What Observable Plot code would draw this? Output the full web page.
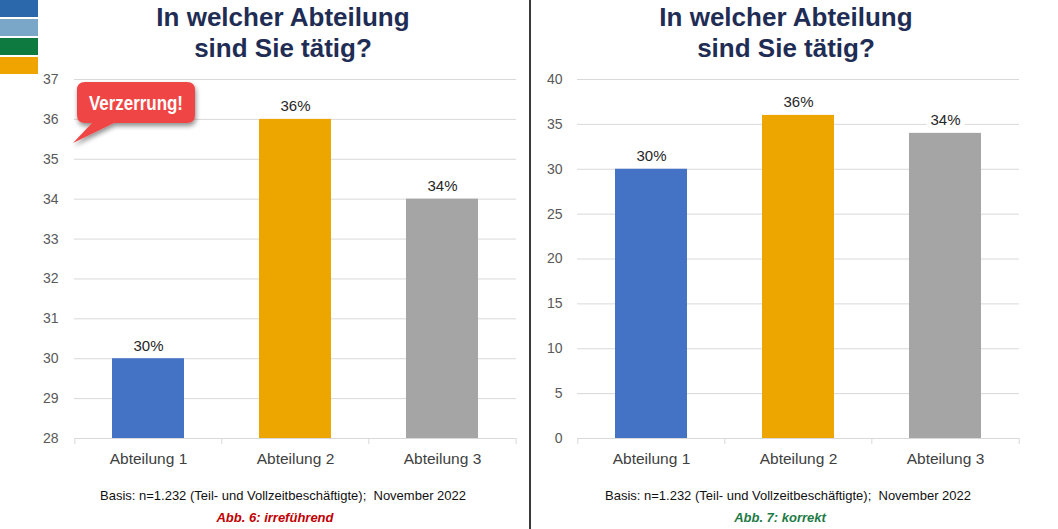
<!DOCTYPE html>
<html>
<head>
<meta charset="utf-8">
<script src="https://cdn.jsdelivr.net/npm/d3@7"></script>
<script src="https://cdn.jsdelivr.net/npm/@observablehq/plot@0.6"></script>
<style>
  html, body { margin: 0; padding: 0; background: #fff; }
  body { width: 1058px; height: 529px; position: relative; overflow: hidden; font-family: "Liberation Sans", Arial, sans-serif; }
  .abs { position: absolute; }
  .title { color: #1f2d55; font-weight: bold; font-size: 26px; line-height: 31px; text-align: center; width: 400px; }
  .basis { font-size: 13px; color: #111; text-align: center; width: 500px; white-space: pre; }
  .abb { font-size: 13px; font-weight: bold; font-style: italic; text-align: center; width: 300px; }
</style>
</head>
<body>
<div id="deco"></div>
<div id="left" class="abs" style="left:0;top:0"></div>
<div id="right" class="abs" style="left:529px;top:0"></div>
<div class="abs" style="left:529px;top:0;width:1.5px;height:529px;background:#3a3a3a"></div>
<div class="abs title" id="t1" style="left:83px;top:2px"></div>
<div class="abs title" id="t2" style="left:586px;top:2px"></div>
<div class="abs basis" id="b1" style="left:33px;top:488px"></div>
<div class="abs basis" id="b2" style="left:538px;top:488px"></div>
<div class="abs abb" id="a1" style="left:125px;top:510px;color:#c00000"></div>
<div class="abs abb" id="a2" style="left:630px;top:510px;color:#1e7b46"></div>
<svg class="abs" style="left:60px;top:75px" width="150" height="80">
  <defs>
    <filter id="sh" x="-20%" y="-20%" width="140%" height="160%">
      <feGaussianBlur in="SourceAlpha" stdDeviation="2.5"/>
      <feOffset dx="1" dy="3" result="b"/>
      <feComponentTransfer><feFuncA type="linear" slope="0.45"/></feComponentTransfer>
      <feMerge><feMergeNode/><feMergeNode in="SourceGraphic"/></feMerge>
    </filter>
  </defs>
  <g filter="url(#sh)">
    <path d="M25,7 H127 Q135,7 135,15 V40 Q135,48 127,48 H54 L13,68 L32,48 H25 Q17,48 17,40 V15 Q17,7 25,7 Z" fill="#f04545"/>
  </g>
  <text id="callout" x="76" y="35" text-anchor="middle" fill="#fff" font-family="'Liberation Sans', Arial, sans-serif" font-weight="bold" font-size="20" textLength="94" lengthAdjust="spacingAndGlyphs"></text>
</svg>
<script>
// ---- data ----
const categories = ["Abteilung 1", "Abteilung 2", "Abteilung 3"];
const values = [30, 36, 34];
const barColors = ["#4472c4", "#eda500", "#a5a5a5"];
const leftTicks = [28, 29, 30, 31, 32, 33, 34, 35, 36, 37];
const rightTicks = [0, 5, 10, 15, 20, 25, 30, 35, 40];
const titleLines = ["In welcher Abteilung", "sind Sie tätig?"];
const basisText = "Basis: n=1.232 (Teil- und Vollzeitbeschäftigte);  November 2022";
const captions = ["Abb. 6: irreführend", "Abb. 7: korrekt"];
const calloutText = "Verzerrung!";
const decoColors = ["#2a67ab", "#7aa6c8", "#0f7a3f", "#f0a400"];

const data = categories.map((c, i) => ({cat: c, value: values[i]}));

// decorative squares
const deco = document.getElementById("deco");
decoColors.forEach((c, i) => {
  const d = document.createElement("div");
  d.className = "abs";
  d.style.cssText = `left:0;top:${i * 19}px;width:38px;height:17px;background:${c}`;
  deco.appendChild(d);
});

["t1", "t2"].forEach(id => document.getElementById(id).innerHTML = titleLines.join("<br>"));
["b1", "b2"].forEach(id => document.getElementById(id).textContent = basisText);
document.getElementById("a1").textContent = captions[0];
document.getElementById("a2").textContent = captions[1];
document.getElementById("callout").textContent = calloutText;

function chart({ticks, marginLeft, marginRight, tickPadding}) {
  const base = ticks[0];
  const plotW = 442;
  const step = plotW / categories.length;
  return Plot.plot({
    width: marginLeft + plotW + marginRight,
    height: 529,
    marginLeft, marginRight,
    marginTop: 79,
    marginBottom: 91,
    style: {fontFamily: "'Liberation Sans', Arial, sans-serif", background: "transparent", overflow: "visible"},
    x: {domain: categories, paddingInner: 0.51, paddingOuter: 0.255, label: null},
    y: {domain: [ticks[0], ticks[ticks.length - 1]], label: null},
    color: {domain: categories, range: barColors},
    marks: [
      Plot.ruleY(ticks, {stroke: "#d9d9d9", strokeWidth: 1}),
      Plot.ruleX(categories, {x: d => d, y1: base, y2: base, dx: -step / 2, stroke: "#d9d9d9", insetBottom: -6}),
      Plot.ruleX([categories[categories.length - 1]], {x: d => d, y1: base, y2: base, dx: step / 2, stroke: "#d9d9d9", insetBottom: -6}),
      Plot.barY(data, {x: "cat", y1: base, y2: "value", fill: "cat"}),
      Plot.text(data, {x: "cat", y: "value", text: d => d.value + "%", dy: -8, lineAnchor: "bottom",
        fontSize: 15, fill: "#262626", stroke: "white", strokeWidth: 10, paintOrder: "stroke"}),
      Plot.axisY({ticks, tickSize: 0, tickPadding, fontSize: 14, color: "#595959", tickFormat: d => String(d)}),
      Plot.axisX({tickSize: 0, tickPadding: 14, fontSize: 15.5, color: "#404040"})
    ]
  });
}

document.getElementById("left").appendChild(chart({ticks: leftTicks, marginLeft: 74, marginRight: 13, tickPadding: 16}));
document.getElementById("right").appendChild(chart({ticks: rightTicks, marginLeft: 48, marginRight: 39, tickPadding: 15}));
</script>
</body>
</html>
